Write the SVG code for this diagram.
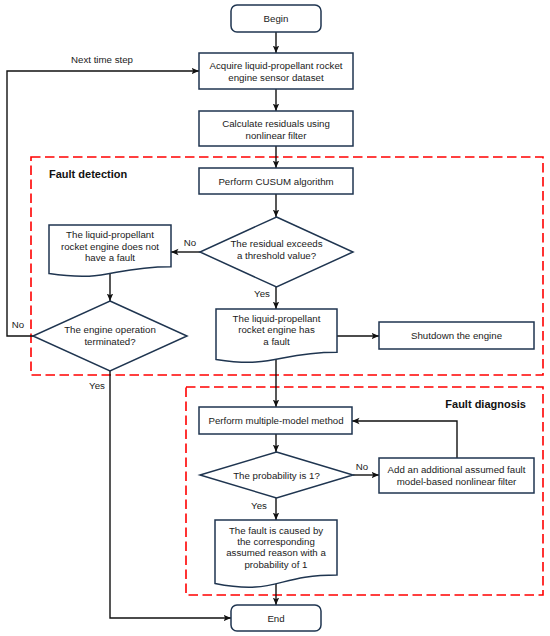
<svg xmlns="http://www.w3.org/2000/svg" width="550" height="636" viewBox="0 0 550 636">
<defs>
<marker id="arr" markerUnits="userSpaceOnUse" markerWidth="8" markerHeight="8" viewBox="0 0 8 8" refX="7.5" refY="4" orient="auto">
<path d="M0,0.8 L7.5,4 L0,7.2 L1.8,4 Z" fill="#111"/>
</marker>
<style>
.box{fill:#fff;stroke:#1f3550;stroke-width:1.5}
.t{font-family:"Liberation Sans",Arial,sans-serif;font-size:9.7px;fill:#1a1a1a;text-anchor:middle}
.lb{font-family:"Liberation Sans",Arial,sans-serif;font-size:9.7px;fill:#1a1a1a;text-anchor:middle}
.h{font-family:"Liberation Sans",Arial,sans-serif;font-size:11px;font-weight:bold;fill:#111}
.ca{fill:none;stroke:#111;stroke-width:1.4;marker-end:url(#arr)}
.grp{fill:none;stroke:#ff0000;stroke-width:1.6;stroke-dasharray:9.5 4.5}
</style>
</defs>

<g id="groups">
<rect class="grp" x="31" y="157" width="512" height="218"/>
<text class="h" x="49" y="178">Fault detection</text>
<rect class="grp" x="186" y="387" width="357" height="208"/>
<text class="h" x="526" y="408" text-anchor="end">Fault diagnosis</text>
</g>

<g id="connectors">
<path class="ca" d="M276,32 V53"/>
<path class="ca" d="M276,89 V111"/>
<path class="ca" d="M276,146 V168"/>
<path class="ca" d="M276,194 V217"/>
<path class="ca" d="M200,252 H171"/>
<text class="lb" x="190" y="246">No</text>
<path class="ca" d="M276,287 V309"/>
<text class="lb" x="262" y="297">Yes</text>
<path class="ca" d="M110,273 V301"/>
<path class="ca" d="M33,336 H7 V71 H199"/>
<text class="lb" x="18" y="328">No</text>
<text class="lb" x="102" y="63">Next time step</text>
<path class="ca" d="M110,371 V618 H231"/>
<text class="lb" x="97" y="389">Yes</text>
<path class="ca" d="M337,336 H379"/>
<path class="ca" d="M276,359 V407"/>
<path class="ca" d="M276,434 V452"/>
<path class="ca" d="M353,475 H379"/>
<text class="lb" x="362" y="470">No</text>
<path class="ca" d="M457,458 V421 H352"/>
<path class="ca" d="M276,498 V520"/>
<text class="lb" x="259" y="509">Yes</text>
<path class="ca" d="M276,584 V605"/>
</g>

<g id="begin">
<rect class="box" x="231" y="5" width="90" height="27" rx="6"/>
<text class="t" x="276" y="22">Begin</text>
</g>

<g id="acquire">
<rect class="box" x="199" y="53" width="154" height="36"/>
<text class="t" x="276" y="69">Acquire liquid-propellant rocket</text>
<text class="t" x="276" y="80.5">engine sensor dataset</text>
</g>

<g id="calculate">
<rect class="box" x="199" y="111" width="154" height="35"/>
<text class="t" x="276" y="127">Calculate residuals using</text>
<text class="t" x="276" y="138.5">nonlinear filter</text>
</g>

<g id="cusum">
<rect class="box" x="199" y="168" width="154" height="26"/>
<text class="t" x="276" y="185">Perform CUSUM algorithm</text>
</g>

<g id="threshold">
<polygon class="box" points="276.5,217 353,252 276.5,287 200,252"/>
<text class="t" x="276.5" y="247">The residual exceeds</text>
<text class="t" x="276.5" y="258.5">a threshold value?</text>
</g>

<g id="nofault">
<path class="box" d="M49,225 H171 V266.7 C110,266.7 110,282.6 49,273.6 Z"/>
<text class="t" x="110" y="238">The liquid-propellant</text>
<text class="t" x="110" y="249.5">rocket engine does not</text>
<text class="t" x="110" y="261">have a fault</text>
</g>

<g id="terminated">
<polygon class="box" points="110,301 187,336 110,371 33,336"/>
<text class="t" x="110" y="333">The engine operation</text>
<text class="t" x="110" y="344.5">terminated?</text>
</g>

<g id="fault">
<path class="box" d="M216,309 H337 V352.3 C276.5,352.3 276.5,368.8 216,359.4 Z"/>
<text class="t" x="276.5" y="322">The liquid-propellant</text>
<text class="t" x="276.5" y="333.3">rocket engine has</text>
<text class="t" x="276.5" y="344.6">a fault</text>
</g>

<g id="shutdown">
<rect class="box" x="379" y="322" width="155" height="27"/>
<text class="t" x="456.5" y="339">Shutdown the engine</text>
</g>

<g id="multimodel">
<rect class="box" x="199" y="407" width="153" height="27"/>
<text class="t" x="276" y="424">Perform multiple-model method</text>
</g>

<g id="probability">
<polygon class="box" points="276.5,452 353,475 276.5,498 200,475"/>
<text class="t" x="276.5" y="478.5">The probability is 1?</text>
</g>

<g id="addfilter">
<rect class="box" x="379" y="458" width="155" height="35"/>
<text class="t" x="456.5" y="473">Add an additional assumed fault</text>
<text class="t" x="456.5" y="484.5">model-based nonlinear filter</text>
</g>

<g id="caused">
<path class="box" d="M215,520 H337 V575 C276,575 276,595.6 215,583.5 Z"/>
<text class="t" x="276" y="534">The fault is caused by</text>
<text class="t" x="276" y="545.2">the corresponding</text>
<text class="t" x="276" y="556.4">assumed reason with a</text>
<text class="t" x="276" y="567.6">probability of 1</text>
</g>

<g id="end">
<rect class="box" x="231" y="605" width="90" height="26" rx="6"/>
<text class="t" x="276" y="621.5">End</text>
</g>
</svg>
